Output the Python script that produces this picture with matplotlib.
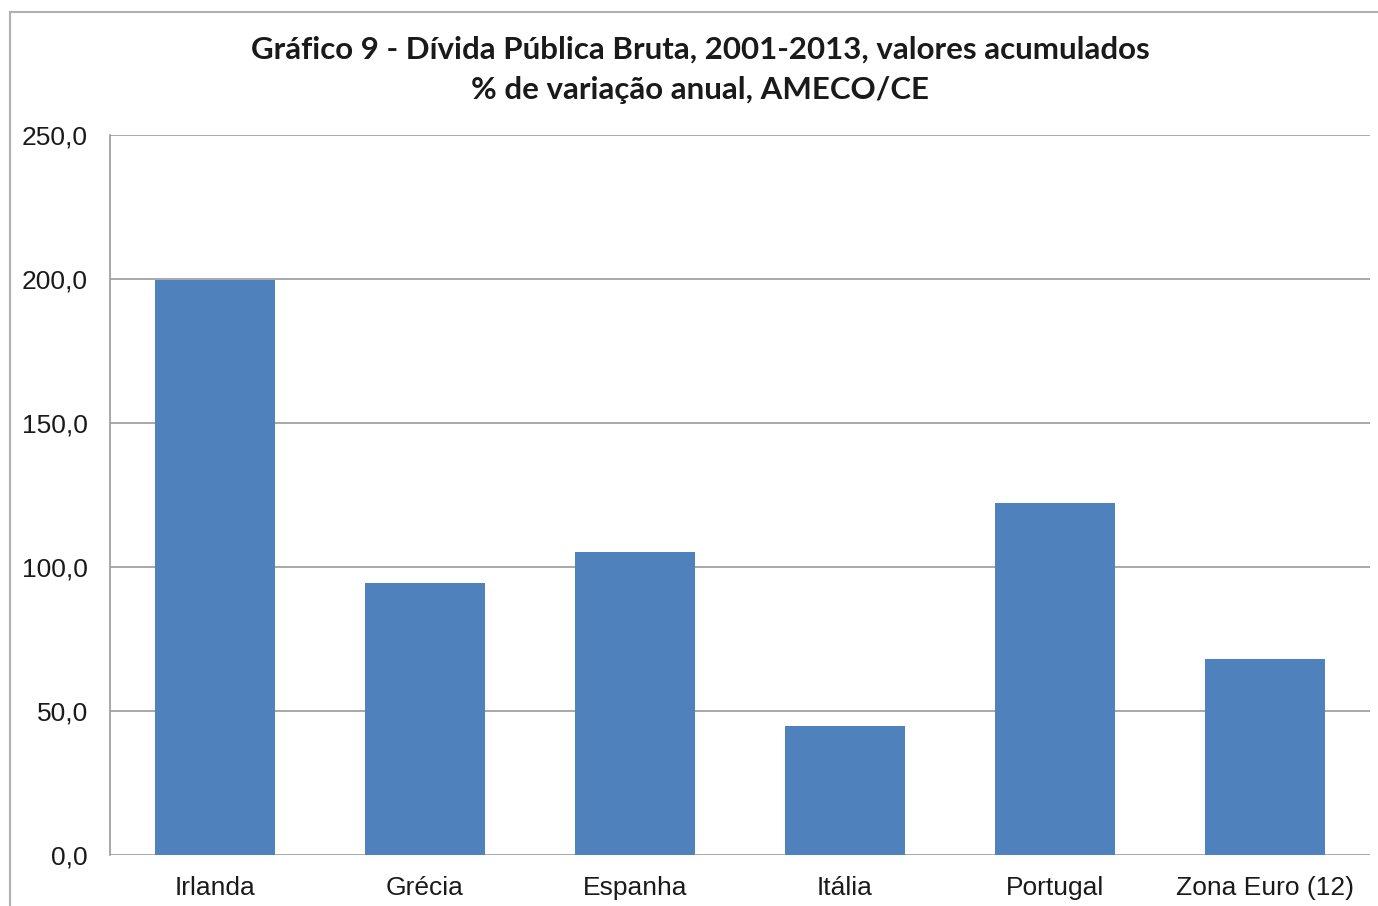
import numpy as np
import matplotlib.pyplot as plt
from matplotlib.patches import Rectangle

# Cumulative change of gross public debt, 2001-2013
paises = ['Irlanda', 'Grécia', 'Espanha', 'Itália', 'Portugal', 'Zona Euro (12)']
variacao = [199.8, 94.4, 105.2, 44.8, 122.3, 68.0]
yticks = [0, 50, 100, 150, 200, 250]

titulo = 'Gráfico 9 - Dívida Pública Bruta, 2001-2013, valores acumulados\n% de variação anual, AMECO/CE'

W, H = 1378, 906
fig = plt.figure(figsize=(W / 100, H / 100), dpi=100)

# chart frame, runs off the right and bottom of the image
fig.patches.append(Rectangle((10 / W, -0.1), 1.2, 1 - 12 / H + 0.1,
                             transform=fig.transFigure, fill=False,
                             edgecolor='#b0b0b0', linewidth=1.5))

left, right, top, bottom = 110, 1370, 135, 855
ax = fig.add_axes([left / W, 1 - bottom / H, (right - left) / W, (bottom - top) / H])

x = np.arange(len(paises))
ax.bar(x, variacao, width=0.57, color='#4f81bd', zorder=3)

ax.set_xlim(-0.5, len(paises) - 0.5)
ax.set_ylim(0, 250)
ax.set_yticks(yticks)
ax.yaxis.set_major_formatter(plt.FuncFormatter(lambda v, p: ('%.1f' % v).replace('.', ',')))
ax.set_xticks(x)
ax.set_xticklabels(paises)

ax.grid(axis='y', color='#9a9a9a', linewidth=1.2, zorder=0)
for s in ['top', 'right', 'bottom']:
    ax.spines[s].set_visible(False)
ax.spines['left'].set_color('#9a9a9a')
ax.spines['left'].set_linewidth(1.2)
ax.tick_params(axis='both', length=0, labelsize=19, colors='#1a1a1a')
ax.tick_params(axis='y', pad=16)
ax.tick_params(axis='x', pad=15)
for lab in ax.get_xticklabels() + ax.get_yticklabels():
    lab.set_family(['Liberation Sans', 'DejaVu Sans'])

fig.text(700 / W, 1 - 69.5 / H, titulo, ha='center', va='center', fontsize=22.5,
         fontweight='bold', family=['Lato', 'DejaVu Sans'], color='#1a1a1a',
         linespacing=1.55)

fig.savefig('out.png', dpi=100)
